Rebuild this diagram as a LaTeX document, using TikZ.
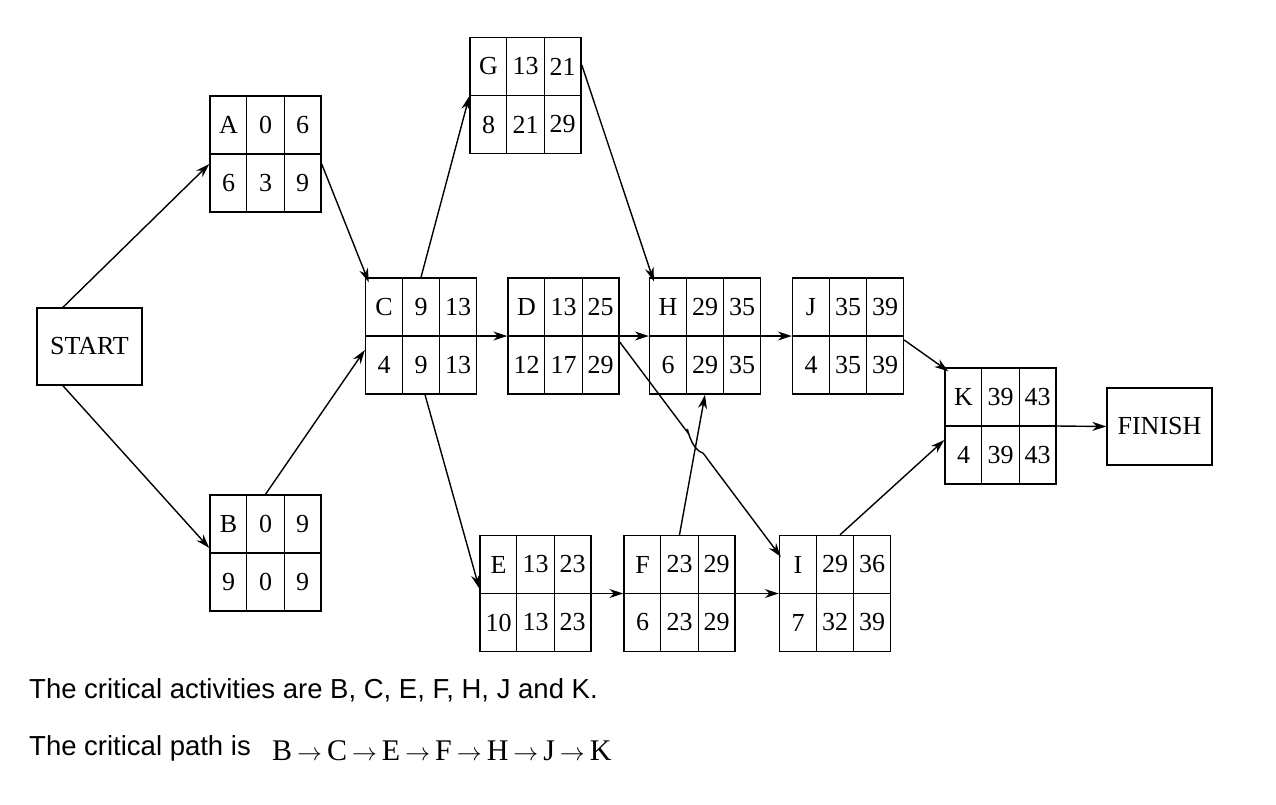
\documentclass[tikz,border=0pt]{standalone}
\usepackage{fontspec}
\setmainfont{Liberation Serif}
\newfontfamily\sansf{Liberation Sans}
\usetikzlibrary{arrows.meta,calc}
\tikzset{
  conn/.style={-{Stealth[length=14pt,width=9pt]},line width=1.4pt},
  cell/.style={font=\fontsize{26}{26}\selectfont,inner sep=0pt},
  endbox/.style={draw,line width=1.4pt,minimum width=105pt,minimum height=77pt,font=\fontsize{26}{26}\selectfont}
}
\newcommand\actbox[8]{%
  \node[draw,line width=1.4pt,minimum width=111pt,minimum height=116pt,inner sep=0pt] (#1) at (#2) {};
  \draw[line width=1.4pt] (#1.west) -- (#1.east)
    ($(#1.north west)!0.333!(#1.north east)$) -- ($(#1.south west)!0.333!(#1.south east)$)
    ($(#1.north west)!0.667!(#1.north east)$) -- ($(#1.south west)!0.667!(#1.south east)$);
  \node[cell] at ($(#1.center)+(-37pt,29pt)$) {#3};
  \node[cell] at ($(#1.center)+(0pt,29pt)$) {#4};
  \node[cell] at ($(#1.center)+(37pt,29pt)$) {#5};
  \node[cell] at ($(#1.center)+(-37pt,-29pt)$) {#6};
  \node[cell] at ($(#1.center)+(0pt,-29pt)$) {#7};
  \node[cell] at ($(#1.center)+(37pt,-29pt)$) {#8};
}
\begin{document}
\begin{tikzpicture}[x=1pt,y=-1pt]
\useasboundingbox (0,0) rectangle (1276,804);
\node[endbox] (S) at (89.5,346.5) {START};
\node[endbox] (Fin) at (1159.5,426.5) {FINISH};
\actbox{A}{265.5,154}{A}{0}{6}{6}{3}{9}
\actbox{B}{265.5,553}{B}{0}{9}{9}{0}{9}
\actbox{C}{421,336}{C}{9}{13}{4}{9}{13}
\actbox{G}{525.5,95.5}{G}{13}{21}{8}{21}{29}
\actbox{D}{563.5,336}{D}{13}{25}{12}{17}{29}
\actbox{H}{705,336}{H}{29}{35}{6}{29}{35}
\actbox{J}{848,336}{J}{35}{39}{4}{35}{39}
\actbox{K}{1000.5,426}{K}{39}{43}{4}{39}{43}
\actbox{E}{535.5,593.5}{E}{13}{23}{10}{13}{23}
\actbox{F}{679.5,593.5}{F}{23}{29}{6}{23}{29}
\actbox{I}{835,593.5}{I}{29}{36}{7}{32}{39}
\draw[conn] ($(S.north west)!0.5!(S.north)$) -- ($(A.west)+(0,10)$);
\draw[conn] ($(S.south west)!0.5!(S.south)$) -- ($(B.west)+(0,-5)$);
\draw[conn] ($(A.east)+(0,10)$) -- ($(C.north west)+(4,5)$);
\draw[conn] (B.north) -- ($(C.west)+(0,14)$);
\draw[conn] (C.north) -- ($(G.south west)+(0,-58)$);
\draw[conn] (C.east) -- (D.west);
\draw[conn] ($(C.south)+(4,0)$) -- ($(E.west)+(0,-5)$);
\draw[conn] ($(G.north east)+(0,28)$) -- ($(H.north west)+(5,4)$);
\draw[conn] (D.east) -- (H.west);
\draw[conn] (F.north) -- (H.south);
\draw[conn] (H.east) -- (J.west);
\draw[conn] ($(J.east)+(0,4)$) -- ($(K.north west)+(4,4)$);
\draw[conn] ($(I.north)+(5,0)$) -- ($(K.west)+(0,14)$);
\draw[conn] (K.east) -- (Fin.west);
\draw[conn] (E.east) -- (F.west);
\draw[conn] (F.east) -- (I.west);
\coordinate (ds) at ($(D.east)+(0,6)$);
\coordinate (de) at ($(I.north west)+(2,22)$);
\coordinate (h1) at (688,433);
\coordinate (h2) at (703,453);
\draw[line width=1.4pt] (ds) -- (h1) .. controls +(-2,-14) and +(-14,-4) .. (h2);
\draw[conn] (h2) -- (de);
\node[anchor=west,font=\sansf\fontsize{27.5}{27.5}\selectfont,inner sep=0pt] (t1) at (29,690) {The critical activities are B, C, E, F, H, J and K.};
\node[anchor=west,font=\sansf\fontsize{27.5}{27.5}\selectfont,inner sep=0pt] (t2) at (29,748) {The critical path is};
\node[anchor=west,font=\fontsize{30}{30}\selectfont,inner sep=0pt] (t3) at (272,751) {B\,$\to$\,C\,$\to$\,E\,$\to$\,F\,$\to$\,H\,$\to$\,J\,$\to$\,K};
\end{tikzpicture}
\end{document}
